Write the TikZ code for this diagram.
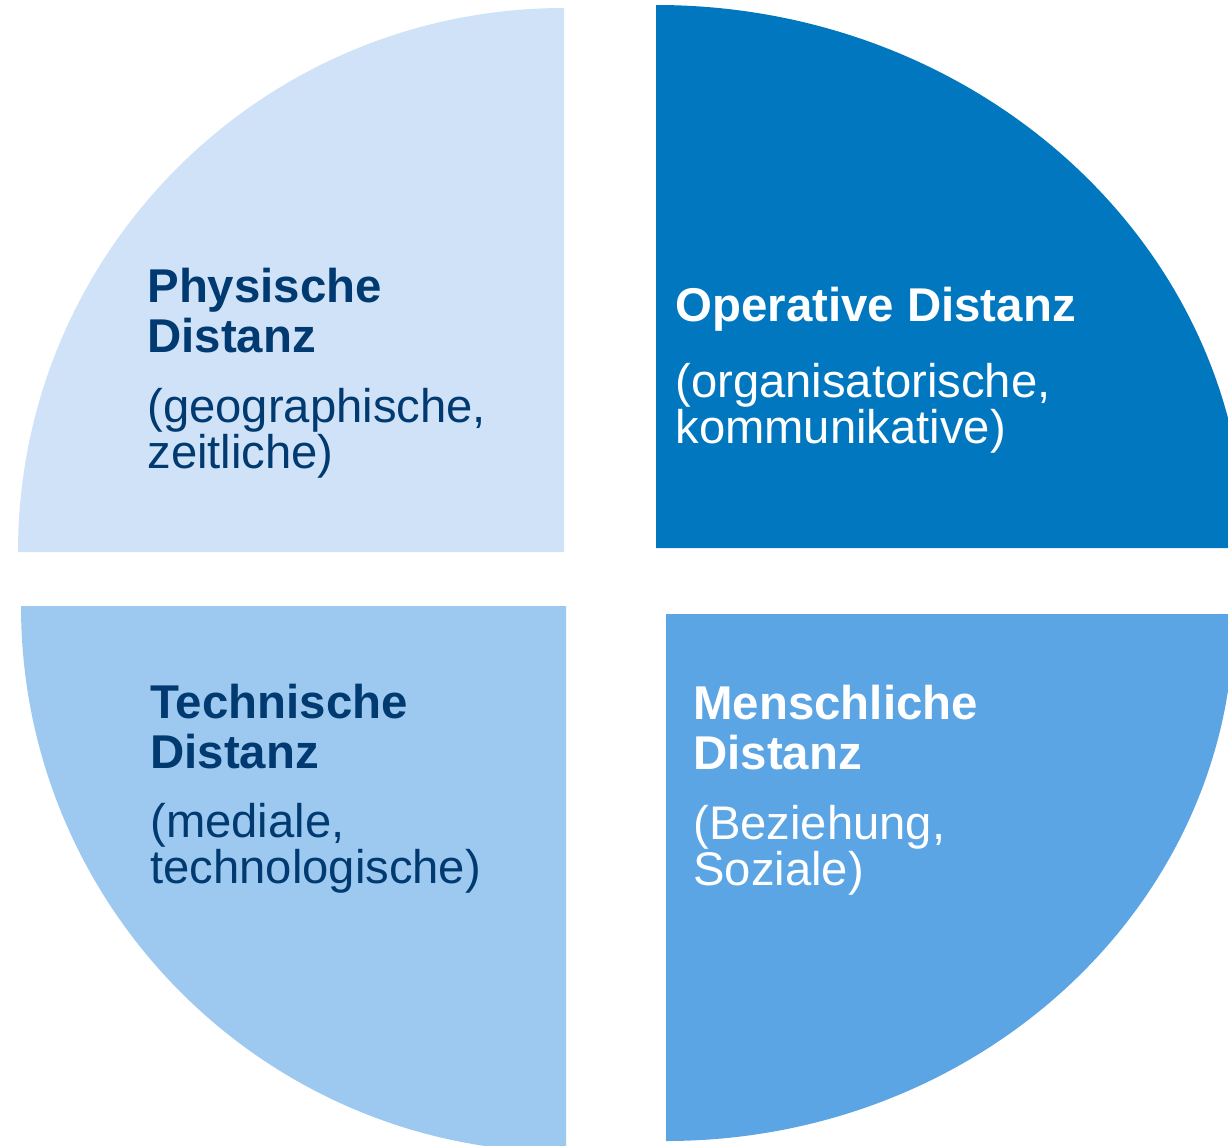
\documentclass[tikz,border=0pt]{standalone}
\usepackage{fontspec}
\setmainfont{Liberation Sans}
\usepackage{tikz}

\definecolor{palesky}{RGB}{207,226,247}
\definecolor{deepsea}{RGB}{0,119,190}
\definecolor{lightsky}{RGB}{157,201,240}
\definecolor{midsky}{RGB}{91,165,229}
\definecolor{navy}{RGB}{0,58,112}

\begin{document}
\begin{tikzpicture}[
x=0.5pt, y=0.5pt,
quarter/.style={draw=none},
title/.style={font=\bfseries\fontsize{23.7}{25}\selectfont, align=left, anchor=base west, inner sep=0pt},
detail/.style={font=\fontsize{23.6}{23}\selectfont, align=left, anchor=base west, inner sep=0pt}]

\useasboundingbox (0,0) rectangle (1228,-1146);
\clip (0,0) rectangle (1228,-1146);

% the four quarters
\fill[quarter, palesky] (564,-552) -- (18,-552) arc[start angle=180, end angle=90, x radius=546, y radius=544] -- cycle;
\fill[quarter, deepsea] (656,-548) -- (656,-5) arc[start angle=90, end angle=0, x radius=589, y radius=543] -- cycle;
\fill[quarter, lightsky] (566,-606) -- (21,-606) arc[start angle=180, end angle=270, x radius=545, y radius=546] -- cycle;
\fill[quarter, midsky] (666,-614) -- (666,-1141) arc[start angle=270, end angle=360, x radius=568, y radius=527] -- cycle;

% texts (base = last line)
\node[title, navy] (phys) at (147,-352) {Physische\\Distanz};
\node[detail, navy] (physd) at (147,-468) {(geographische,\\zeitliche)};

\node[title, white] (oper) at (675,-321) {Operative Distanz};
\node[detail, white] (operd) at (675,-443) {(organisatorische,\\kommunikative)};

\node[title, navy] (tech) at (150,-768) {Technische\\Distanz};
\node[detail, navy] (techd) at (150,-883) {(mediale,\\technologische)};

\node[title, white] (mensch) at (693,-769) {Menschliche\\Distanz};
\node[detail, white] (menschd) at (693,-885) {(Beziehung,\\Soziale)};
\end{tikzpicture}
\end{document}
